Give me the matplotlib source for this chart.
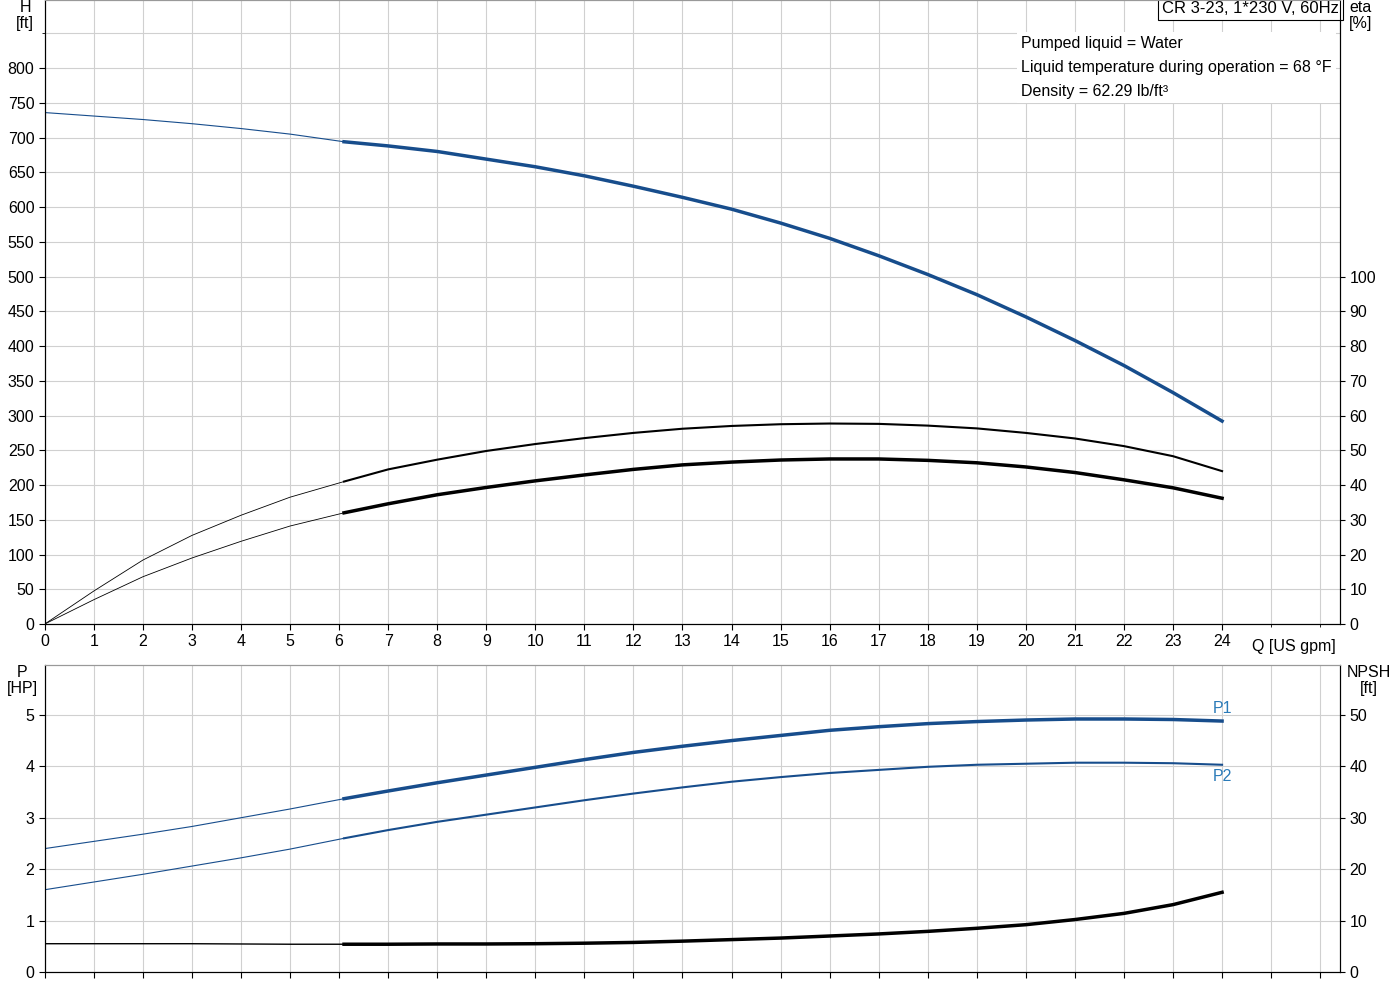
import matplotlib.pyplot as plt
import numpy as np

q = [0, 1, 2, 3, 4, 5, 6.1, 7, 8, 9, 10, 11, 12, 13, 14, 15, 16, 17, 18, 19, 20, 21, 22, 23, 24]
head = [736, 731, 726, 720, 713, 705, 694, 688, 680, 669, 658, 645, 630, 614, 597, 577, 555, 530, 503, 474, 442, 408, 372, 333, 292]
eta_a = [0, 9.5, 18.4, 25.5, 31.3, 36.5, 41, 44.5, 47.3, 49.8, 51.8, 53.5, 55, 56.2, 57, 57.5, 57.7, 57.6, 57.1, 56.3, 55, 53.4, 51.2, 48.3, 44]
eta_b = [0, 7, 13.6, 19, 23.8, 28.2, 32, 34.6, 37.2, 39.3, 41.2, 42.9, 44.5, 45.8, 46.6, 47.2, 47.5, 47.5, 47.1, 46.4, 45.2, 43.6, 41.5, 39.2, 36.2]
p1 = [2.4, 2.54, 2.68, 2.83, 3.0, 3.17, 3.37, 3.52, 3.68, 3.83, 3.98, 4.13, 4.27, 4.39, 4.5, 4.6, 4.7, 4.77, 4.83, 4.87, 4.9, 4.92, 4.92, 4.91, 4.88]
p2 = [1.6, 1.75, 1.9, 2.06, 2.22, 2.39, 2.6, 2.76, 2.92, 3.06, 3.2, 3.34, 3.47, 3.59, 3.7, 3.79, 3.87, 3.93, 3.99, 4.03, 4.05, 4.07, 4.07, 4.06, 4.03]
npsh = [5.5, 5.5, 5.5, 5.5, 5.45, 5.4, 5.4, 5.4, 5.45, 5.45, 5.5, 5.6, 5.75, 6.0, 6.3, 6.6, 7.0, 7.4, 7.9, 8.5, 9.2, 10.2, 11.4, 13.1, 15.5]

blue = '#174d8c'
plt.rcParams['font.family'] = ['Liberation Sans', 'DejaVu Sans']
plt.rcParams['font.size'] = 11.5
fig = plt.figure(figsize=(14, 10), dpi=100)
ax = fig.add_axes([0.032, 0.376, 0.925, 0.624])
ax2 = ax.twinx()
bx = fig.add_axes([0.032, 0.028, 0.925, 0.307])
bx2 = bx.twinx()

k = 6  # index of start of operating range
def draw(a, y, c, lw_thin, lw_thick):
    a.plot(q[:k+1], y[:k+1], color=c, lw=lw_thin)
    a.plot(q[k:], y[k:], color=c, lw=lw_thick)

draw(ax, head, blue, 0.8, 2.5)
draw(ax2, eta_a, 'black', 0.6, 1.5)
draw(ax2, eta_b, 'black', 0.6, 2.5)
draw(bx, p1, blue, 0.8, 2.5)
draw(bx, p2, blue, 0.8, 1.5)
draw(bx2, npsh, 'black', 1.0, 2.5)

xmax = 26.4
for a in (ax, bx):
    a.set_xlim(0, xmax)
    a.grid(True, color='#d0d0d0', lw=0.8)
    a.tick_params(direction='out', length=4)
ax.set_xticks(range(0, 25))
ax.set_xticklabels([str(i) for i in range(25)])
ax.set_xticks(np.arange(25, 27), minor=True)
ax.grid(True, which='minor', color='#d0d0d0', lw=0.8)
bx.set_xticks(np.arange(0, 27, 1))
bx.set_xticklabels([])
ax.set_ylim(0, 898)
ax.set_yticks(range(0, 801, 50))
ax.set_yticks([850], minor=True)
ax.grid(True, which='minor', axis='y', color='#d0d0d0', lw=0.8)
ax2.set_ylim(0, 898 / 5)
ax2.set_yticks(range(0, 101, 10))
bx.set_ylim(0, 5.97)
bx.set_yticks(range(0, 6))
bx2.set_ylim(0, 59.7)
bx2.set_yticks(range(0, 51, 10))
for a in (ax, ax2, bx, bx2):
    for s in a.spines.values():
        s.set_color('#999999')
    a.spines['left'].set_color('black')
    a.spines['right'].set_color('black')
    a.spines['bottom'].set_color('black')

fig.text(0.018, 1.0, 'H\n[ft]', ha='center', va='top', fontsize=11.5, linespacing=1.1)
fig.text(0.972, 1.0, 'eta\n[%]', ha='center', va='top', fontsize=11.5, linespacing=1.1)
ax.text(24.6, -22, 'Q [US gpm]', ha='left', va='top', fontsize=11.5)
fig.text(0.016, 0.335, 'P\n[HP]', ha='center', va='top', fontsize=11.5, linespacing=1.1)
fig.text(0.978, 0.335, 'NPSH\n[ft]', ha='center', va='top', fontsize=11.5, linespacing=1.1)
ax.text(0.9995, 0.998, 'CR 3-23, 1*230 V, 60Hz', transform=ax.transAxes, ha='right', va='top', fontsize=12,
        bbox=dict(facecolor='white', edgecolor='black', lw=0.8, pad=3))
info = ['Pumped liquid = Water', 'Liquid temperature during operation = 68 °F', 'Density = 62.29 lb/ft³']
ax.text(19.9, 846, '\n'.join(info), ha='left', va='top', fontsize=11.5, linespacing=1.75,
        bbox=dict(facecolor='white', edgecolor='none', pad=3))
bx.text(24, p1[-1] + 0.1, 'P1', color='#2a7ab8', ha='center', va='bottom', fontsize=11.5)
bx.text(24, p2[-1] - 0.08, 'P2', color='#2a7ab8', ha='center', va='top', fontsize=11.5)

fig.savefig('out.png', dpi=100)
